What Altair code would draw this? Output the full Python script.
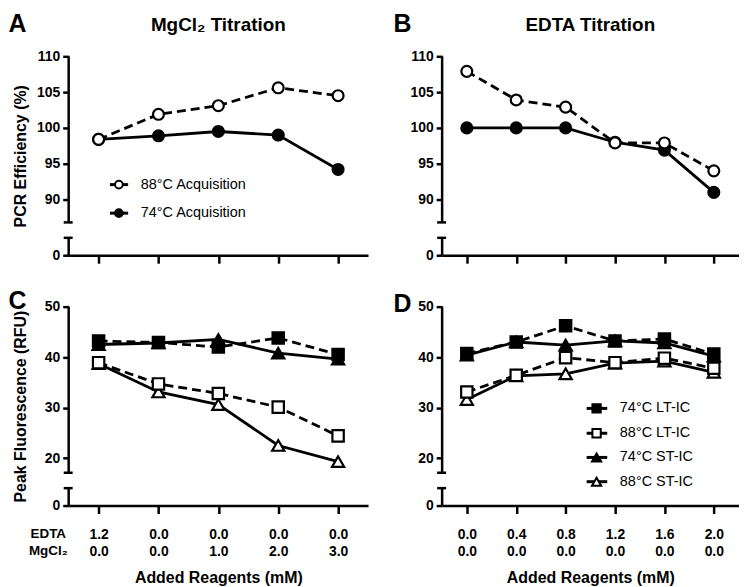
import altair as alt
import pandas as pd

FONT = "Liberation Sans"

# ---- categories (EDTA | MgCl2 added, mM) ----
x_mg = ["1.2|0.0", "0.0|0.0", "0.0|1.0", "0.0|2.0", "0.0|3.0"]
x_edta = ["0.0|0.0", "0.4|0.0", "0.8|0.0", "1.2|0.0", "1.6|0.0", "2.0|0.0"]

# ---- Panel A: MgCl2 titration, PCR efficiency (%) ----
a_74 = [98.4, 98.9, 99.5, 99.0, 94.2]
a_88 = [98.4, 101.9, 103.1, 105.6, 104.5]

# ---- Panel B: EDTA titration, PCR efficiency (%) ----
b_74 = [100.0, 100.0, 100.0, 98.0, 96.9, 91.0]
b_88 = [107.9, 103.9, 102.9, 97.9, 97.9, 94.0]

# ---- Panel C: MgCl2 titration, peak fluorescence (RFU) ----
c_lt74 = [43.2, 42.9, 42.0, 43.8, 40.5]
c_lt88 = [38.9, 34.7, 32.8, 30.1, 24.4]
c_st74 = [42.5, 42.8, 43.5, 40.8, 39.6]
c_st88 = [38.7, 33.1, 30.6, 22.5, 19.3]

# ---- Panel D: EDTA titration, peak fluorescence (RFU) ----
d_lt74 = [40.7, 43.0, 46.2, 43.2, 43.6, 40.6]
d_lt88 = [33.1, 36.4, 39.9, 38.9, 39.8, 37.8]
d_st74 = [40.4, 43.0, 42.4, 43.2, 42.8, 40.2]
d_st88 = [31.6, 36.3, 36.7, 38.8, 39.2, 37.0]

# broken y axes: lower piece [0, lo_top], upper piece [up_bottom, top]
eff_domain = [0, 2.5, 86.8, 110]
eff_ticks = [0, 90, 95, 100, 105, 110]
rfu_domain = [0, 3.6, 17.1, 50]
rfu_ticks = [0, 20, 30, 40, 50]

H = 200
Y_RANGE = [H, 182.5, 167, 0]
ONE = pd.DataFrame({"k": [0]})
AXW = 2.5


def x_enc(xs, show_labels):
    common = dict(tickSize=8, tickWidth=AXW, domainWidth=AXW, grid=False)
    if show_labels:
        axis = alt.Axis(labelExpr="split(datum.label, '|')", labelAngle=0,
                        labelFontSize=14, labelFontWeight="bold", labelPadding=14,
                        labelLineHeight=17, labelOverlap=False,
                        title="Added Reagents (mM)", titleFontSize=16,
                        titleFontWeight="bold", titleY=64, titleBaseline="top",
                        **common)
    else:
        axis = alt.Axis(labels=False, title=None, **common)
    return alt.X("x:N", scale=alt.Scale(type="point", padding=0.5, domain=xs), axis=axis)


def y_enc(field, dom, ticks, title):
    kw = dict(values=ticks, domain=False, tickSize=6, tickWidth=AXW, labelFontSize=14,
              labelFontWeight="bold", labelPadding=3, grid=False,
              titleFontSize=16, titleFontWeight="bold")
    if title:
        kw.update(title=title, titleX=-40, titleY=100)
    else:
        kw.update(title=None)
    return alt.Y(f"{field}:Q", scale=alt.Scale(domain=dom, range=Y_RANGE, zero=False, nice=False),
                 axis=alt.Axis(**kw))


def text_layer(txt, x, y, size, weight="normal", align="left", baseline="alphabetic"):
    return alt.Chart(ONE).mark_text(text=txt, font=FONT, fontSize=size, fontWeight=weight,
                                    align=align, baseline=baseline, color="black").encode(
        x=alt.value(x), y=alt.value(y))


def legend_item(label, shape, filled, size, y, x0, x1, xm, xt):
    rule = alt.Chart(ONE).mark_rule(color="black", strokeWidth=3).encode(
        x=alt.value(x0), x2=alt.value(x1), y=alt.value(y))
    pt = alt.Chart(ONE).mark_point(shape=shape, size=size, filled=True,
                                   fill="black" if filled else "white", stroke="black",
                                   strokeWidth=2, opacity=1).encode(x=alt.value(xm), y=alt.value(y))
    tx = text_layer(label, xt, y, 14.5, baseline="middle")
    return [rule, pt, tx]


def make_panel(xs, series, dom, ticks, ytitle, width, show_xlabels, letter, letter_x, letter_y,
               title=None, legend=None, row_labels=False):
    X = x_enc(xs, show_xlabels)
    seg_df = pd.DataFrame({"lo": [dom[0], dom[2]], "hi": [dom[1], dom[3]]})
    brk_df = pd.DataFrame({"b": [dom[1], dom[2]]})
    layers = [
        alt.Chart(seg_df).mark_rule(color="black", strokeWidth=AXW).encode(
            x=alt.value(0), y=y_enc("lo", dom, ticks, ytitle), y2=alt.Y2("hi")),
        alt.Chart(brk_df).mark_rule(color="black", strokeWidth=AXW).encode(
            x=alt.value(-5), x2=alt.value(4), y=y_enc("b", dom, ticks, ytitle)),
    ]
    Y = y_enc("value", dom, ticks, ytitle)
    dfs = [pd.DataFrame({"x": xs, "value": s[0]}) for s in series]
    for df, (vals, shape, filled, size, dashed) in zip(dfs, series):
        kw = dict(color="black", strokeWidth=2.8)
        if dashed:
            kw["strokeDash"] = [9, 5]
        layers.append(alt.Chart(df).mark_line(**kw).encode(x=X, y=Y))
    for df, (vals, shape, filled, size, dashed) in zip(dfs, series):
        layers.append(alt.Chart(df).mark_point(shape=shape, size=size, filled=True,
                                               fill="black" if filled else "white",
                                               stroke="black", strokeWidth=2.2, opacity=1)
                      .encode(x=X, y=Y))
    layers.append(text_layer(letter, letter_x, letter_y, 25, weight="bold"))
    if title:
        layers.append(text_layer(title, width / 2, -25.7, 19, weight="bold", align="center"))
    if legend:
        for item in legend:
            layers.extend(legend_item(*item))
    if row_labels:
        layers.append(text_layer("EDTA", -20.5, 229, 13.5, weight="bold", align="center", baseline="middle"))
        layers.append(text_layer("MgCl₂", -20.5, 245.5, 13.5, weight="bold", align="center", baseline="middle"))
    return alt.layer(*layers).properties(width=width, height=H)


W1, W2 = 301, 298

pA = make_panel(
    x_mg,
    [(a_74, "circle", True, 120, False), (a_88, "circle", False, 120, True)],
    eff_domain, eff_ticks, "PCR Efficiency (%)", W1, False, "A", -60.5, -24,
    title="MgCl₂ Titration",
    legend=[("88°C Acquisition", "circle", False, 60, 129, 41.5, 59.8, 50.5, 72.5),
            ("74°C Acquisition", "circle", True, 60, 157.7, 41.5, 59.8, 50.5, 72.5)],
)
pB = make_panel(
    x_edta,
    [(b_74, "circle", True, 120, False), (b_88, "circle", False, 120, True)],
    eff_domain, eff_ticks, None, W2, False, "B", -49, -24,
    title="EDTA Titration",
)
pC = make_panel(
    x_mg,
    [(c_st88, "triangle-up", False, 150, False), (c_st74, "triangle-up", True, 150, False),
     (c_lt88, "square", False, 130, True), (c_lt74, "square", True, 130, True)],
    rfu_domain, rfu_ticks, "Peak Fluorescence (RFU)", W1, True, "C", -60.5, 2,
    row_labels=True,
)
pD = make_panel(
    x_edta,
    [(d_st88, "triangle-up", False, 150, False), (d_st74, "triangle-up", True, 150, False),
     (d_lt88, "square", False, 130, True), (d_lt74, "square", True, 130, True)],
    rfu_domain, rfu_ticks, None, W2, True, "D", -49, 5,
    legend=[("74°C LT-IC", "square", True, 70, 102.3, 145.3, 166, 155.3, 178.7),
            ("88°C LT-IC", "square", False, 70, 127.3, 145.3, 166, 155.3, 178.7),
            ("74°C ST-IC", "triangle-up", True, 85, 151.6, 145.3, 166, 155.3, 178.7),
            ("88°C ST-IC", "triangle-up", False, 85, 176, 145.3, 166, 155.3, 178.7)],
)

chart = alt.concat(pA, pB, pC, pD, columns=2, spacing={"row": 51.7, "column": 74.5},
                   bounds="flush").properties(
    padding={"top": 3, "left": 0, "right": 0, "bottom": 0}
).configure_view(stroke=None).configure_axis(
    labelFont=FONT, titleFont=FONT, labelColor="black", titleColor="black",
    domainColor="black", tickColor="black")

chart.save("out.html", embed_options={"renderer": "svg", "actions": False})
